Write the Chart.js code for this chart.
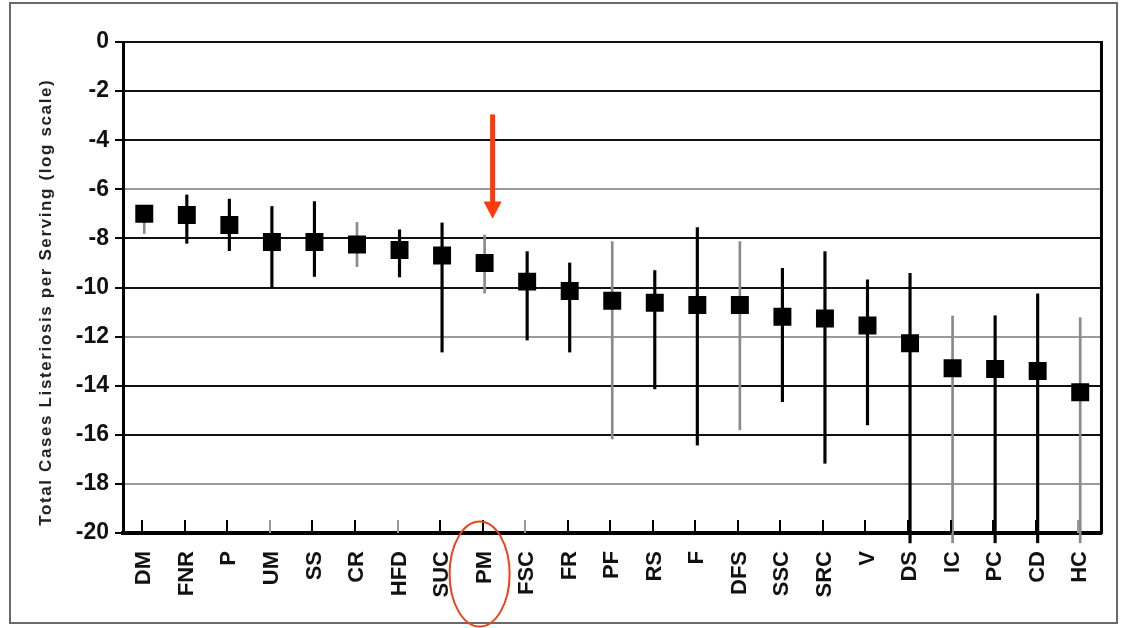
<!DOCTYPE html>
<html>
<head>
<meta charset="utf-8">
<script src="https://cdn.jsdelivr.net/npm/chart.js@4.4.1/dist/chart.umd.min.js"></script>
<style>
  html, body { margin: 0; padding: 0; background: #fff; }
  #c { display: block; }
</style>
</head>
<body>
<canvas id="c" width="1125" height="628"></canvas>
<script>
// ---- data ----
const categories = ['DM','FNR','P','UM','SS','CR','HFD','SUC','PM','FSC','FR','PF','RS','F','DFS','SSC','SRC','V','DS','IC','PC','CD','HC'];
const meanLog  = [-7.0,-7.05,-7.45,-8.15,-8.15,-8.25,-8.47,-8.7,-9.0,-9.76,-10.14,-10.54,-10.62,-10.71,-10.71,-11.19,-11.26,-11.55,-12.27,-13.29,-13.32,-13.4,-14.27];
const upperLog = [-6.8,-6.23,-6.4,-6.7,-6.5,-7.35,-7.65,-7.37,-7.86,-8.54,-9.0,-8.13,-9.31,-7.56,-8.13,-9.22,-8.54,-9.69,-9.42,-11.16,-11.15,-10.26,-11.23];
const lowerLog = [-7.8,-8.2,-8.5,-10.0,-9.55,-9.15,-9.57,-12.63,-10.23,-12.14,-12.63,-16.17,-14.13,-16.42,-15.8,-14.65,-17.16,-15.6,-20.4,-20.4,-20.4,-20.4,-20.4];
const yTickValues = [0,-2,-4,-6,-8,-10,-12,-14,-16,-18,-20];
const yTitle = 'Total Cases Listeriosis per Serving (log scale)';
const highlighted = 'PM';

// styling (not data)
const thinWhisker = ['DM','CR','PM','PF','DFS','IC','HC'];
const grayTicks = ['UM','HFD','FSC','HC'];
const grayGrid = [-6,-12,-18];

const blackBars = categories.map((c,i) => thinWhisker.includes(c) ? null : [lowerLog[i], upperLog[i]]);
const grayBars  = categories.map((c,i) => thinWhisker.includes(c) ? [lowerLog[i], upperLog[i]] : null);

const framePlugin = {
  id: 'frame',
  beforeDraw(chart) {
    const ctx = chart.ctx;
    ctx.save();
    ctx.fillStyle = '#fff';
    ctx.fillRect(0, 0, chart.width, chart.height);
    ctx.strokeStyle = '#6a6a6a';
    ctx.lineWidth = 2;
    ctx.strokeRect(10, 3, 1107, 620);
    ctx.restore();
  },
  afterDraw(chart) {
    const ctx = chart.ctx;
    const a = chart.chartArea;
    const xs = chart.scales.x;
    ctx.save();
    // right border of plot
    ctx.strokeStyle = '#000';
    ctx.lineWidth = 3;
    ctx.beginPath();
    ctx.moveTo(a.right, a.top - 1);
    ctx.lineTo(a.right, a.bottom + 1);
    ctx.stroke();
    // inner x ticks
    ctx.lineWidth = 2;
    categories.forEach((c, i) => {
      const x = Math.round(xs.getPixelForTick(i)) - 2;
      ctx.strokeStyle = grayTicks.includes(c) ? '#999' : '#000';
      ctx.beginPath();
      ctx.moveTo(x, a.bottom);
      ctx.lineTo(x, a.bottom - 13);
      ctx.stroke();
    });
    // y axis title
    ctx.fillStyle = '#222';
    ctx.font = 'bold 17px "Liberation Sans", Arial, sans-serif';
    const w0 = ctx.measureText(yTitle).width;
    const target = 447;
    if ('letterSpacing' in ctx) {
      ctx.letterSpacing = Math.max(0, (target - w0) / (yTitle.length)).toFixed(2) + 'px';
    }
    ctx.translate(46, (chart.scales.y.getPixelForValue(-1.5) + chart.scales.y.getPixelForValue(-19.7)) / 2);
    ctx.rotate(-Math.PI / 2);
    ctx.textAlign = 'center';
    ctx.textBaseline = 'middle';
    ctx.fillText(yTitle, 0, 0);
    ctx.restore();

    // annotation: red arrow above highlighted category and ellipse around its label
    const idx = categories.indexOf(highlighted);
    const px = xs.getPixelForTick(idx);
    const ys = chart.scales.y;
    ctx.save();
    ctx.fillStyle = '#ff3a0a';
    ctx.strokeStyle = '#ff3a0a';
    const ax = px + 8;
    const yTop = ys.getPixelForValue(-2.95);
    const yBase = ys.getPixelForValue(-6.5);
    const yTip = ys.getPixelForValue(-7.2);
    ctx.lineWidth = 5;
    ctx.beginPath();
    ctx.moveTo(ax, yTop);
    ctx.lineTo(ax, yBase + 1);
    ctx.stroke();
    ctx.beginPath();
    ctx.moveTo(ax - 9, yBase);
    ctx.lineTo(ax + 9, yBase);
    ctx.lineTo(ax, yTip);
    ctx.closePath();
    ctx.fill();
    ctx.strokeStyle = '#f0401c';
    ctx.lineWidth = 2;
    ctx.beginPath();
    ctx.ellipse(px - 5, a.bottom + 41, 30, 52.5, 0, 0, Math.PI * 2);
    ctx.stroke();
    ctx.restore();
  }
};

new Chart(document.getElementById('c'), {
  type: 'bar',
  data: {
    labels: categories,
    datasets: [
      {
        type: 'line',
        label: 'mean',
        data: meanLog,
        showLine: false,
        pointStyle: 'rect',
        pointRadius: 12.7,
        pointBackgroundColor: '#000',
        pointBorderWidth: 0,
        order: 0
      },
      {
        label: 'range',
        data: blackBars,
        backgroundColor: '#000',
        borderWidth: 0,
        barThickness: 2.5,
        grouped: false,
        clip: false,
        order: 2
      },
      {
        label: 'range thin',
        data: grayBars,
        backgroundColor: '#8a8a8a',
        borderWidth: 0,
        barThickness: 2,
        grouped: false,
        clip: false,
        order: 3
      }
    ]
  },
  options: {
    responsive: false,
    animation: false,
    devicePixelRatio: 1,
    layout: { padding: { left: 0, right: 18, top: 42, bottom: 0 } },
    plugins: { legend: { display: false }, tooltip: { enabled: false } },
    scales: {
      x: {
        offset: true,
        grid: { display: false, drawTicks: false },
        border: { display: true, color: '#000', width: 4 },
        ticks: {
          color: '#111',
          font: { family: '"Liberation Sans", Arial, sans-serif', size: 22, weight: 'bold' },
          minRotation: 90,
          maxRotation: 90,
          padding: 18,
          autoSkip: false
        },
        afterFit(s) { s.height = 95; }
      },
      y: {
        min: -20,
        max: 0,
        afterBuildTicks(s) { s.ticks = yTickValues.map(v => ({ value: v })); },
        grid: {
          color: (c) => (c.tick && grayGrid.includes(c.tick.value)) ? '#9a9a9a' : '#111',
          lineWidth: 2,
          tickLength: 8,
          tickColor: '#000',
          tickWidth: 2
        },
        border: { display: true, color: '#000', width: 3 },
        ticks: {
          color: '#111',
          font: { family: '"Liberation Sans", Arial, sans-serif', size: 23, weight: 'bold' },
          padding: 6
        },
        afterFit(s) { s.width = 123; }
      }
    }
  },
  plugins: [framePlugin]
});
</script>
</body>
</html>
